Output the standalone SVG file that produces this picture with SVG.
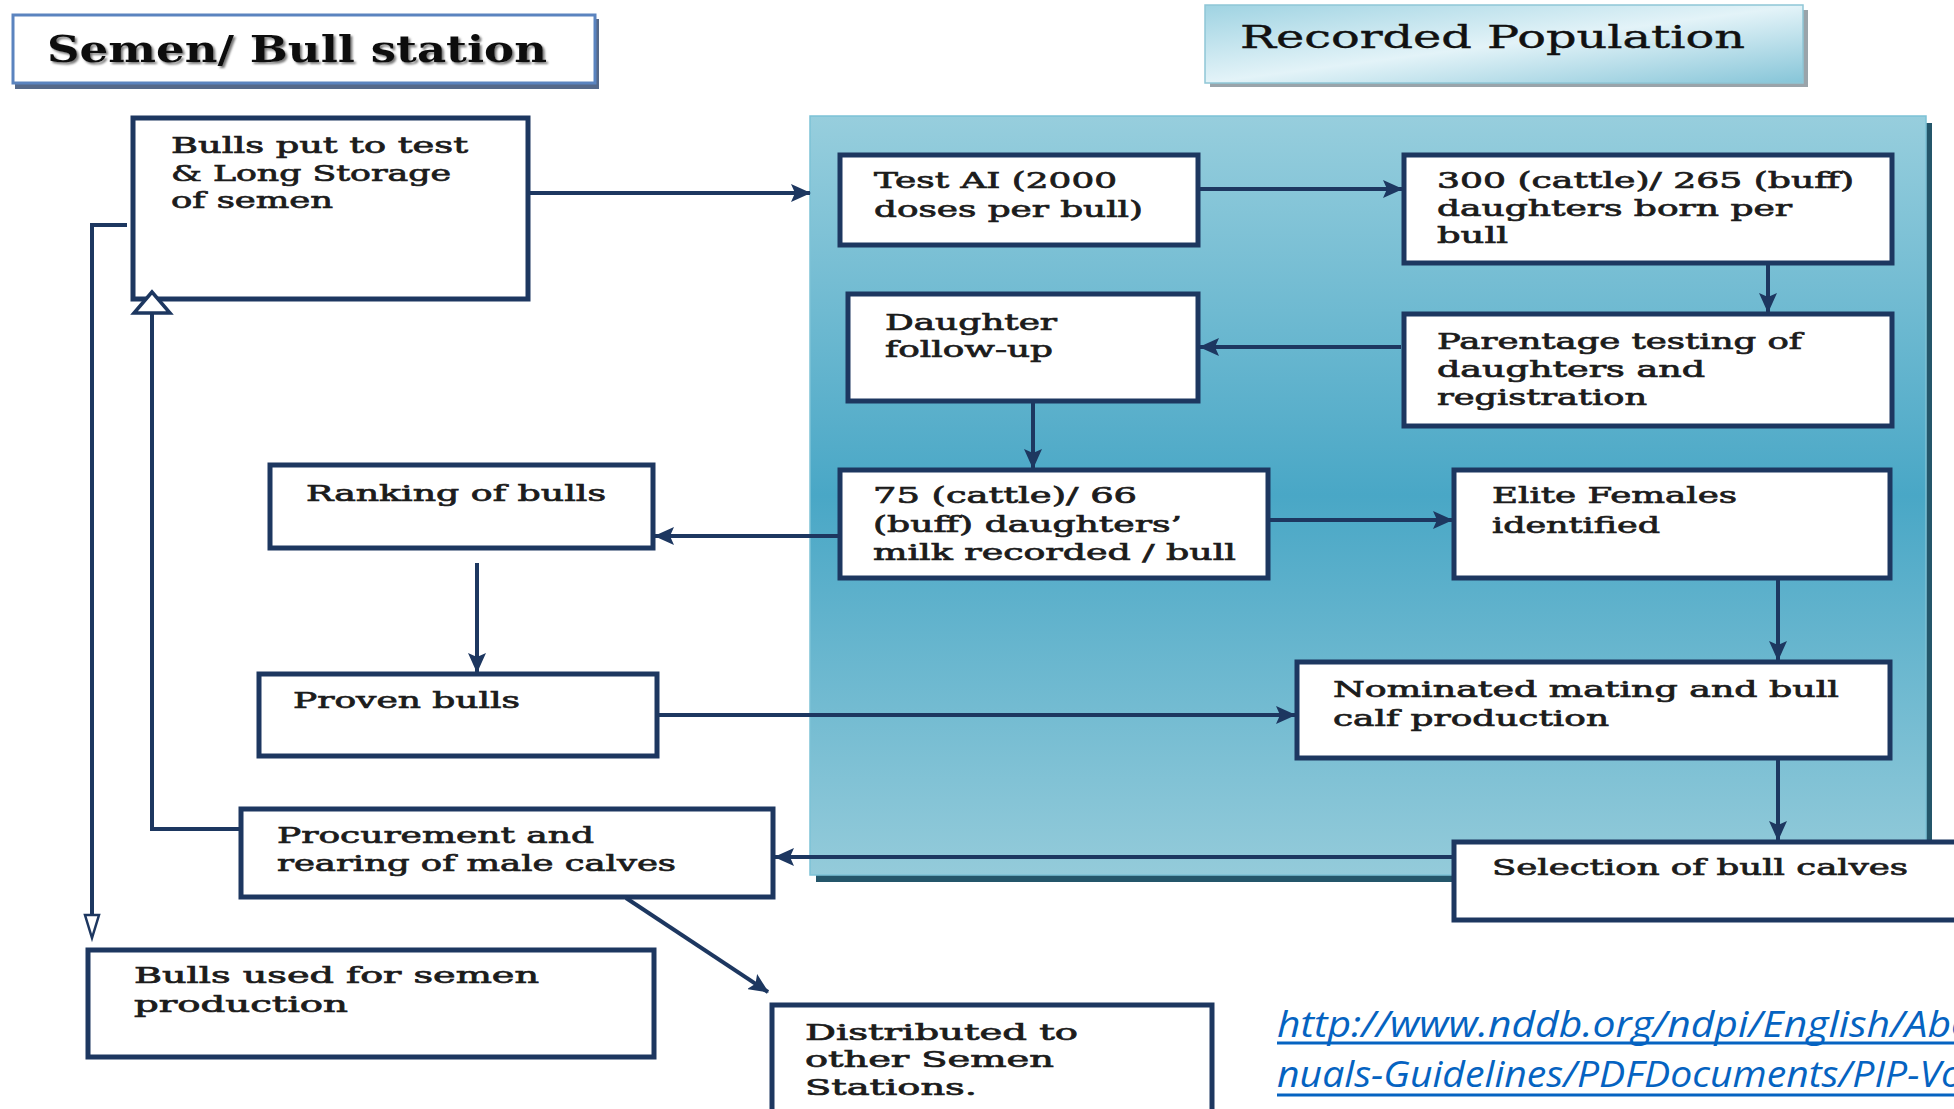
<svg xmlns="http://www.w3.org/2000/svg" width="1954" height="1109" viewBox="0 0 1954 1109">
<defs>
<style>
.box{fill:#ffffff;stroke:#1d3760;stroke-width:5}
.t{font-family:"DejaVu Serif","Liberation Serif",serif;font-size:22px;font-weight:normal;fill:#1c1c1c;stroke:#1c1c1c;stroke-width:0.7px}
.c{fill:none;stroke:#1d3760;stroke-width:4}
.ar{marker-end:url(#ah)}
.url{font-family:"Open Sans","Liberation Sans",sans-serif;font-style:italic;font-size:37px;fill:#0563c1}
</style>
<marker id="ah" markerUnits="userSpaceOnUse" markerWidth="20" markerHeight="18" refX="19" refY="9" orient="auto">
<path d="M0,0 L20,9 L0,18 L4,9 z" fill="#1d3760"/>
</marker>
<linearGradient id="panelG" x1="0" y1="0" x2="0" y2="1">
<stop offset="0" stop-color="#97cedd"/>
<stop offset="0.5" stop-color="#49a7c6"/>
<stop offset="1" stop-color="#94cbda"/>
</linearGradient>
<linearGradient id="recG" x1="0" y1="0" x2="1" y2="1">
<stop offset="0" stop-color="#9fd3e2"/>
<stop offset="0.5" stop-color="#e3f3f8"/>
<stop offset="1" stop-color="#86c5d8"/>
</linearGradient>
<filter id="sh" x="-5%" y="-20%" width="110%" height="140%">
<feDropShadow dx="2" dy="2" stdDeviation="1" flood-color="#6a6a6a" flood-opacity="0.9"/>
</filter>
</defs>

<rect width="1954" height="1109" fill="#ffffff"/>

<g id="panel">
<rect x="816" y="123" width="1116" height="759" fill="#24566a"/>
<rect x="810" y="116" width="1116" height="759" fill="url(#panelG)" stroke="#7cc2d6" stroke-width="1.5"/>
</g>

<g id="title-semen">
<rect x="15" y="19" width="584" height="70" fill="#55698a"/>
<rect x="13" y="15" width="582" height="68" fill="#ffffff" stroke="#5b84bf" stroke-width="3"/>
<text x="47" y="62" font-family="DejaVu Serif, Liberation Serif, serif" font-size="37" font-weight="bold" fill="#111" textLength="500" lengthAdjust="spacingAndGlyphs" filter="url(#sh)">Semen/ Bull station</text>
</g>

<g id="title-recorded">
<rect x="1210" y="10" width="598" height="77" fill="#9aa4aa"/>
<rect x="1205" y="5" width="598" height="78" fill="url(#recG)" stroke="#8fc6d6" stroke-width="1.5"/>
<text x="1240" y="48" font-family="DejaVu Serif, Liberation Serif, serif" font-size="31" fill="#111" stroke="#111" stroke-width="0.4" textLength="505" lengthAdjust="spacingAndGlyphs">Recorded Population</text>
</g>

<g id="n-bulls-test">
<rect class="box" x="133" y="118" width="395" height="181"/>
<text class="t" x="171" y="153" textLength="297" lengthAdjust="spacingAndGlyphs">Bulls put to test</text>
<text class="t" x="171" y="181" textLength="280" lengthAdjust="spacingAndGlyphs">&amp; Long Storage</text>
<text class="t" x="171" y="208" textLength="162" lengthAdjust="spacingAndGlyphs">of semen</text>
</g>

<g id="n-test-ai">
<rect class="box" x="840" y="155" width="358" height="90"/>
<text class="t" x="874" y="188" textLength="243" lengthAdjust="spacingAndGlyphs">Test AI (2000</text>
<text class="t" x="874" y="217" textLength="269" lengthAdjust="spacingAndGlyphs">doses per bull)</text>
</g>

<g id="n-daughters-born">
<rect class="box" x="1404" y="155" width="488" height="108"/>
<text class="t" x="1437" y="188" textLength="417" lengthAdjust="spacingAndGlyphs">300 (cattle)/ 265 (buff)</text>
<text class="t" x="1437" y="216" textLength="355" lengthAdjust="spacingAndGlyphs">daughters born per</text>
<text class="t" x="1437" y="243" textLength="71" lengthAdjust="spacingAndGlyphs">bull</text>
</g>

<g id="n-daughter-follow">
<rect class="box" x="848" y="294" width="350" height="107"/>
<text class="t" x="885" y="330" textLength="172" lengthAdjust="spacingAndGlyphs">Daughter</text>
<text class="t" x="885" y="357" textLength="168" lengthAdjust="spacingAndGlyphs">follow-up</text>
</g>

<g id="n-parentage">
<rect class="box" x="1404" y="314" width="488" height="112"/>
<text class="t" x="1437" y="349" textLength="365" lengthAdjust="spacingAndGlyphs">Parentage testing of</text>
<text class="t" x="1437" y="377" textLength="268" lengthAdjust="spacingAndGlyphs">daughters and</text>
<text class="t" x="1437" y="405" textLength="210" lengthAdjust="spacingAndGlyphs">registration</text>
</g>

<g id="n-ranking">
<rect class="box" x="270" y="465" width="383" height="83"/>
<text class="t" x="306" y="501" textLength="300" lengthAdjust="spacingAndGlyphs">Ranking of bulls</text>
</g>

<g id="n-milk">
<rect class="box" x="840" y="470" width="428" height="108"/>
<text class="t" x="873" y="503" textLength="264" lengthAdjust="spacingAndGlyphs">75 (cattle)/ 66</text>
<text class="t" x="873" y="532" textLength="309" lengthAdjust="spacingAndGlyphs">(buff) daughters’</text>
<text class="t" x="873" y="560" textLength="363" lengthAdjust="spacingAndGlyphs">milk recorded / bull</text>
</g>

<g id="n-elite">
<rect class="box" x="1454" y="470" width="436" height="108"/>
<text class="t" x="1492" y="503" textLength="245" lengthAdjust="spacingAndGlyphs">Elite Females</text>
<text class="t" x="1492" y="533" textLength="168" lengthAdjust="spacingAndGlyphs">identified</text>
</g>

<g id="n-proven">
<rect class="box" x="259" y="674" width="398" height="82"/>
<text class="t" x="293" y="708" textLength="227" lengthAdjust="spacingAndGlyphs">Proven bulls</text>
</g>

<g id="n-nominated">
<rect class="box" x="1297" y="662" width="593" height="96"/>
<text class="t" x="1333" y="697" textLength="506" lengthAdjust="spacingAndGlyphs">Nominated mating and bull</text>
<text class="t" x="1333" y="726" textLength="276" lengthAdjust="spacingAndGlyphs">calf production</text>
</g>

<g id="n-selection">
<rect class="box" x="1454" y="842" width="520" height="78"/>
<text class="t" x="1492" y="875" textLength="416" lengthAdjust="spacingAndGlyphs">Selection of bull calves</text>
</g>

<g id="n-procurement">
<rect class="box" x="241" y="809" width="532" height="88"/>
<text class="t" x="277" y="843" textLength="317" lengthAdjust="spacingAndGlyphs">Procurement and</text>
<text class="t" x="277" y="871" textLength="399" lengthAdjust="spacingAndGlyphs">rearing of male calves</text>
</g>

<g id="n-bulls-used">
<rect class="box" x="88" y="950" width="566" height="107"/>
<text class="t" x="134" y="983" textLength="405" lengthAdjust="spacingAndGlyphs">Bulls used for semen</text>
<text class="t" x="134" y="1012" textLength="214" lengthAdjust="spacingAndGlyphs">production</text>
</g>

<g id="n-distributed">
<rect class="box" x="772" y="1005" width="440" height="120"/>
<text class="t" x="805" y="1040" textLength="273" lengthAdjust="spacingAndGlyphs">Distributed to</text>
<text class="t" x="805" y="1067" textLength="249" lengthAdjust="spacingAndGlyphs">other Semen</text>
<text class="t" x="805" y="1095" textLength="172" lengthAdjust="spacingAndGlyphs">Stations.</text>
</g>

<g id="connectors">
<path class="c ar" d="M530,193 H810"/>
<path class="c ar" d="M1200,189 H1402"/>
<path class="c ar" d="M1768,265 V312"/>
<path class="c ar" d="M1401,347 H1200"/>
<path class="c ar" d="M1033,403 V468"/>
<path class="c ar" d="M838,536 H655"/>
<path class="c ar" d="M1270,520 H1452"/>
<path class="c ar" d="M477,563 V672"/>
<path class="c ar" d="M1778,580 V660"/>
<path class="c ar" d="M659,715 H1295"/>
<path class="c ar" d="M1778,760 V840"/>
<path class="c ar" d="M1452,857 H775"/>
<path class="c" d="M239,829 H152 V313"/>
<polygon points="152,292 134,313 170,313" fill="#ffffff" stroke="#1d3760" stroke-width="3.5" stroke-linejoin="miter"/>
<path class="c" d="M127,225 H92 V936"/>
<polygon points="85,915 99,915 92,938" fill="#ffffff" stroke="#1d3760" stroke-width="2.5"/>
<path class="c ar" d="M626,898 L768,992"/>
</g>

<g id="source-url">
<text class="url" x="1277" y="1037" textLength="697" lengthAdjust="spacingAndGlyphs">http://www.nddb.org/ndpi/English/Abo</text>
<line x1="1277" y1="1043" x2="1954" y2="1043" stroke="#0563c1" stroke-width="3"/>
<text class="url" x="1277" y="1087" textLength="686" lengthAdjust="spacingAndGlyphs">nuals-Guidelines/PDFDocuments/PIP-Vo</text>
<line x1="1277" y1="1095" x2="1954" y2="1095" stroke="#0563c1" stroke-width="3"/>
</g>
</svg>
